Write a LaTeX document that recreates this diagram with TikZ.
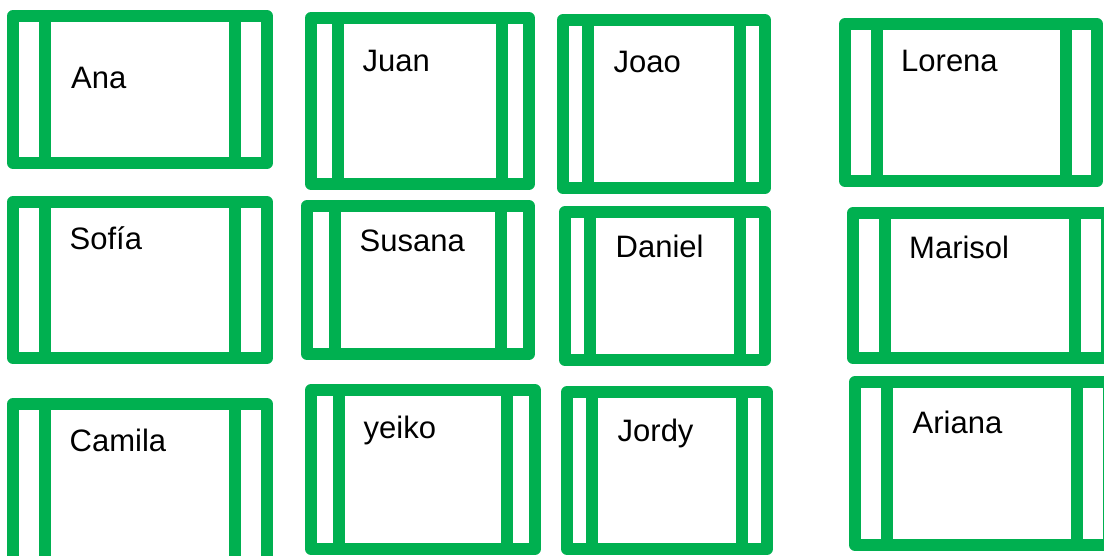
\documentclass[tikz,border=0pt]{standalone}
\usepackage{fontspec}
\setmainfont{Liberation Sans}
\definecolor{boxgreen}{HTML}{00B050}
\begin{document}
\begin{tikzpicture}[x=1pt,y=-1pt,
  frame/.style={draw=boxgreen,line width=12pt,line join=round},
  bar/.style={draw=boxgreen,line width=12pt},
  label/.style={anchor=base west,inner sep=0pt,font=\fontsize{31}{36}\selectfont}]
\useasboundingbox (0,0) rectangle (1104,556);
\clip (0,0) rectangle (1104,556);
\foreach \n/\a/\b/\c/\d/\l/\r/\tx/\ty/\t in {
  ana/7/10/273/169/45/235/71/89/Ana,
  juan/305/12/535/190/338/502/362.5/72/Juan,
  joao/557/14/771/194/588/740/613.5/73/Joao,
  lorena/839/18/1103/187/877/1066/901/72/Lorena,
  sofia/7/196/273/364/45/235/69.5/250/Sofía,
  susana/301/200/535/360/335/501/359.5/252/Susana,
  daniel/559/206/771/366/590/740/615.5/258/Daniel,
  marisol/847/207/1113/364/885/1075/909/259/Marisol,
  camila/7/398/273/570/45/235/69.5/451/Camila,
  yeiko/305/384/541/555/339/507/363.5/438/yeiko,
  jordy/561/386/773/555/592/742/617.5/441/Jordy,
  ariana/849/376/1115/551/887/1077/912.5/433/Ariana}
{
  \draw[frame] ({\a+6},{\b+6}) rectangle ({\c-6},{\d-6});
  \draw[bar] (\l,{\b+6}) -- (\l,{\d-6});
  \draw[bar] (\r,{\b+6}) -- (\r,{\d-6});
  \node[label] (\n) at (\tx,\ty) {\t};
}
\end{tikzpicture}
\end{document}
